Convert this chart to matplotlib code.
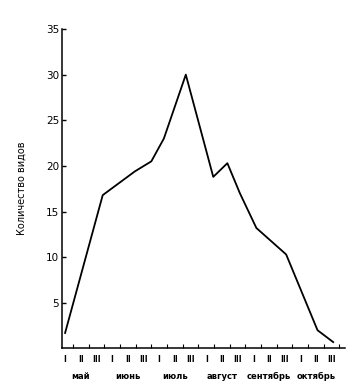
import numpy as np
import matplotlib
matplotlib.use("Agg")
import matplotlib.pyplot as plt
import matplotlib.transforms as mtransforms

# decades (index 0..17 -> I,II,III of May..October)
decade_labels = ["I", "II", "III"] * 6
months = ["май", "июнь", "июль", "август", "сентябрь", "октябрь"]

# vertices of the curve, x in decade units
x_pts = [0.0, 2.4, 4.45, 5.5, 6.3, 7.7, 9.45, 10.35, 11.15, 12.2, 14.1, 16.1, 17.1]
y_pts = [1.7, 16.8, 19.4, 20.5, 23.0, 30.0, 18.8, 20.3, 17.0, 13.2, 10.3, 2.0, 0.7]

fig = plt.figure(figsize=(3.52, 3.84), dpi=100)
ax = fig.add_axes([0.176, 0.0925, 0.804, 0.832])

ax.plot(x_pts, y_pts, color="black", lw=1.3)

ax.set_xlim(-0.2, 17.85)
ax.set_ylim(0, 35)

for s in ["top", "right"]:
    ax.spines[s].set_visible(False)
ax.spines["left"].set_linewidth(1.1)
ax.spines["bottom"].set_linewidth(1.1)

ax.set_yticks([5, 10, 15, 20, 25, 30, 35])
ax.tick_params(axis="y", direction="in", length=3, width=1, labelsize=7.5, pad=2)

ax.set_xticks(np.arange(18))
ax.set_xticklabels(decade_labels, fontsize=5.5, fontweight="bold")
ax.set_xticks(np.arange(18) + 0.5, minor=True)
ax.tick_params(axis="x", which="major", length=0, pad=5)
ax.tick_params(axis="x", which="minor", direction="in", length=3, width=0.8)

trans = mtransforms.blended_transform_factory(ax.transData, ax.transAxes)
for i, m in enumerate(months):
    ax.text(3 * i + 1, -0.087, m, transform=trans, ha="center", va="center",
            fontsize=6, fontweight="bold")

ax.set_ylabel("Количество видов", fontsize=7, labelpad=14)

fig.savefig("out.png", dpi=100)
